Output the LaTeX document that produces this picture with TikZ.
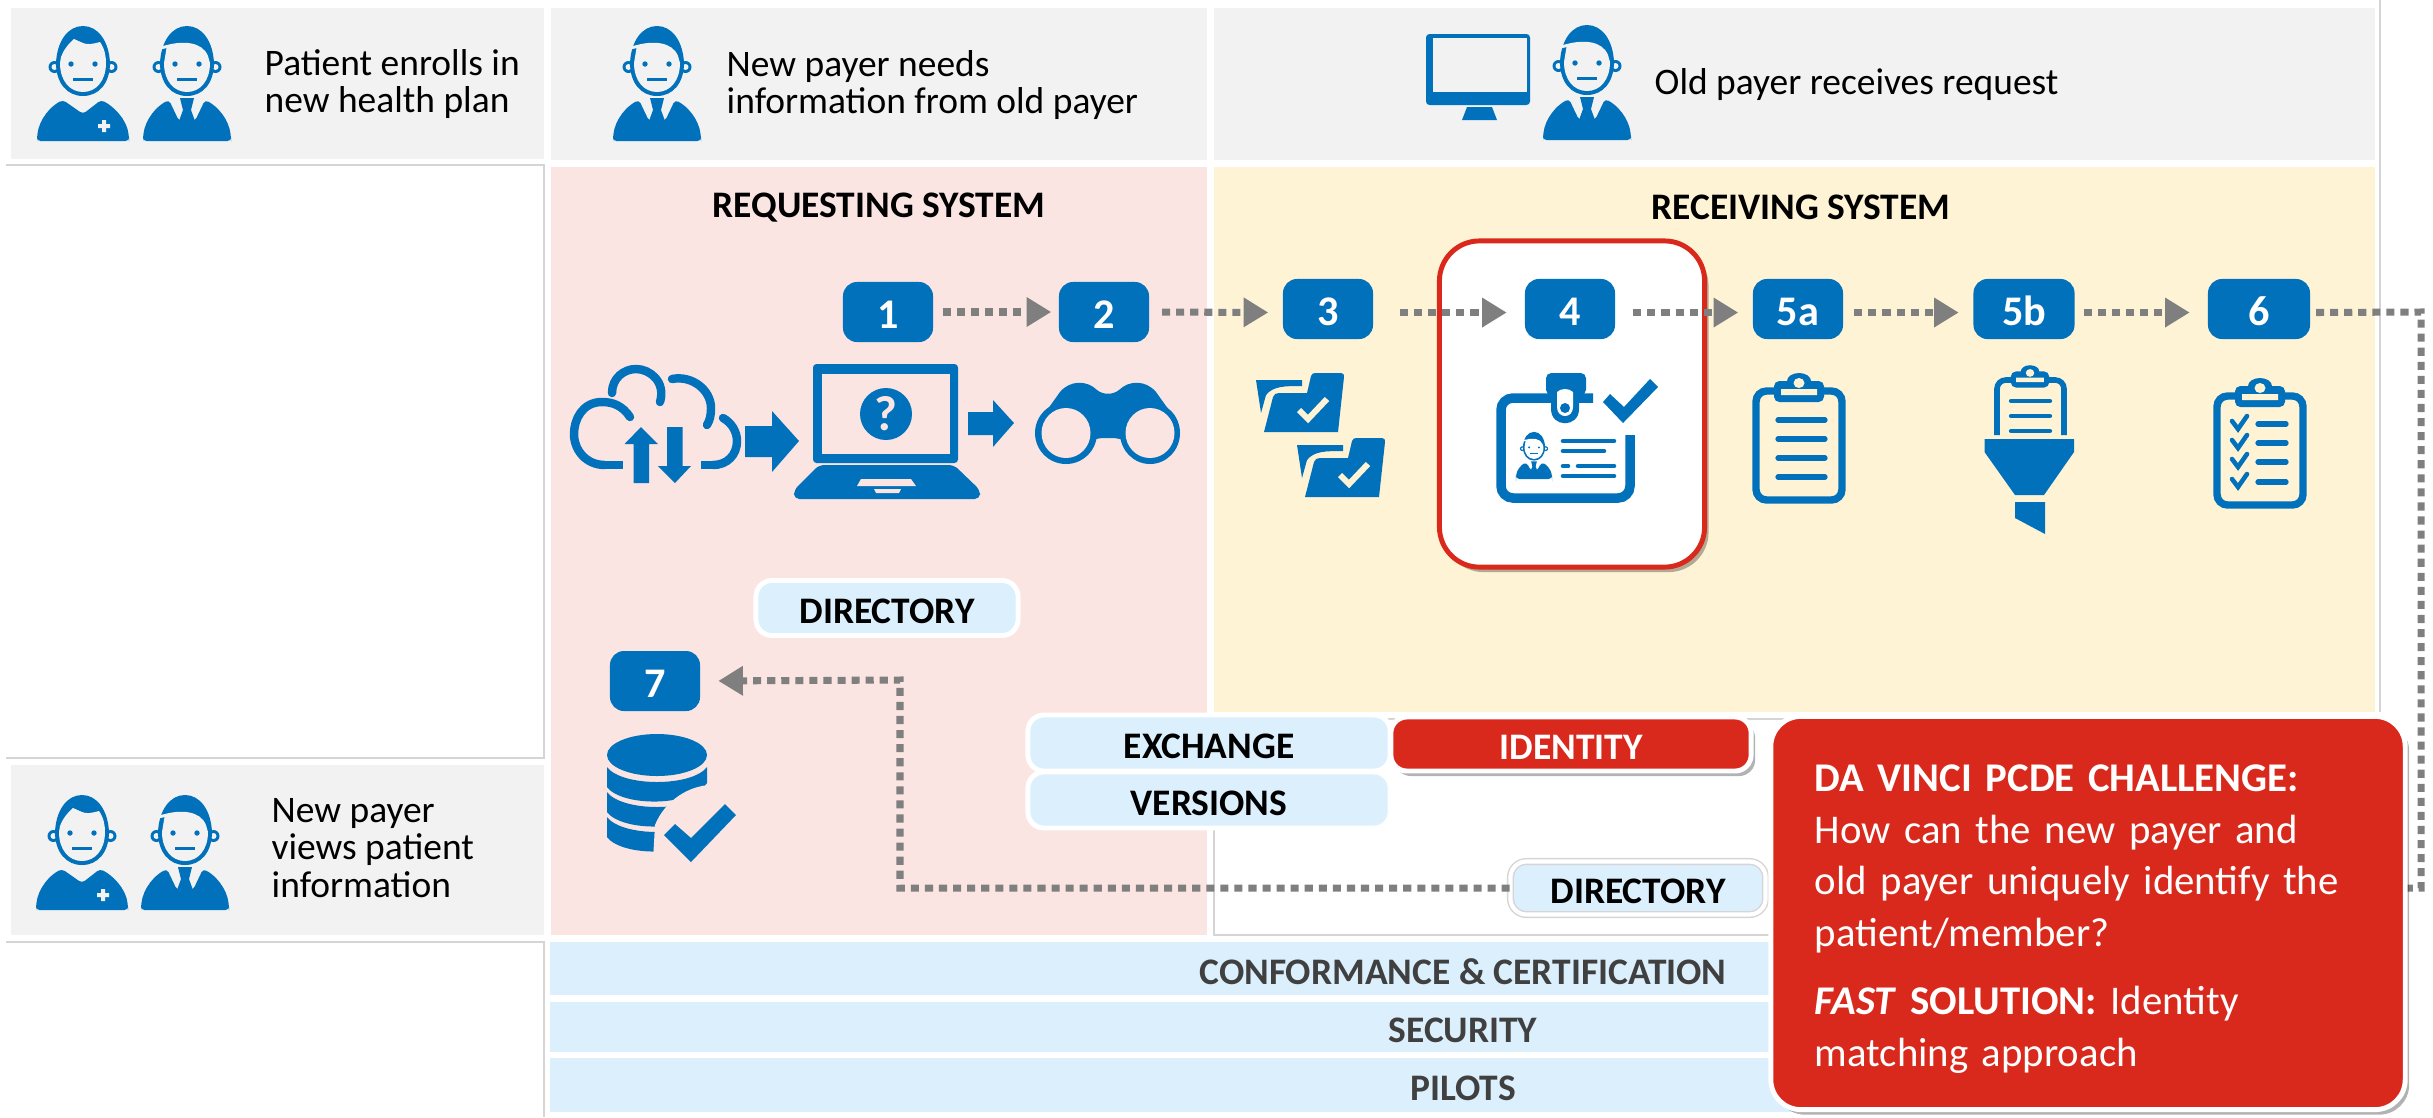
\documentclass[tikz,border=0pt]{standalone}
\usepackage{fontspec}
\setmainfont{Carlito}
\usetikzlibrary{arrows.meta,shadows}
\definecolor{iconblue}{HTML}{0071BA}
\definecolor{headgray}{HTML}{F2F2F2}
\definecolor{reqpink}{HTML}{FBE5E3}
\definecolor{recvyellow}{HTML}{FFF3D6}
\definecolor{pillblue}{HTML}{DBEFFD}
\definecolor{alertred}{HTML}{D9291C}
\definecolor{flowgray}{HTML}{7F7F7F}
\definecolor{hairgray}{HTML}{D5D5D5}
\newcommand{\drawhead}[1]{
    \fill [iconblue] (-28.5,-74) circle [radius=6] (28.5,-74) circle [radius=6];
    \fill [#1] (-28.5,-74) circle [radius=3] (28.5,-74) circle [radius=3];
    \fill [iconblue] (0,-45) .. controls (16,-45) and (27,-58) .. (27,-78) .. controls (26,-100) and (15,-115) .. (0,-115) .. controls (-15,-115) and (-26,-100) .. (-27,-78) .. controls (-27,-58) and (-16,-45) .. (0,-45) -- cycle;
}
\newcommand{\drawfeatures}{
    \fill [iconblue] (-12,-77) circle [radius=2.7] (12,-77) circle [radius=2.7];
    \fill [iconblue] (-10,-63.5) rectangle (10,-60.5);
}
\tikzset{
    headbox/.style={fill=headgray},
    headtext/.style={anchor=west, align=left, inner sep=0pt, text=black, font=\fontsize{10.65}{10.6}\selectfont},
    systitle/.style={font=\fontsize{10.65}{12}\selectfont\bfseries},
    badge/.style={fill=iconblue, text=white, rounded corners=0.14cm, minimum width=0.9cm, minimum height=0.6cm, inner sep=0pt, text height=9.6pt, font=\fontsize{12}{12}\selectfont\bfseries},
    flowline/.style={draw=flowgray, line width=2pt, dash pattern=on 2.3pt off 1.7pt, -{Triangle[length=7pt,width=8pt]}},
    pill/.style={fill=pillblue, draw=white, line width=1.4pt, rounded corners=0.16cm, inner sep=0pt, text height=9pt, font=\fontsize{10.65}{12}\selectfont\bfseries},
    barbox/.style={fill=pillblue, text=black!75, minimum width=18.24cm, inner sep=0pt, text height=9pt, font=\fontsize{10.65}{12}\selectfont\bfseries},
    challengebox/.style={fill=alertred, draw=white, line width=1.4pt, text=white, rounded corners=0.3cm, align=left, text width=5.46cm, inner xsep=0.44cm, inner ysep=0pt, minimum height=3.93cm, font=\fontsize{11.6}{14.65}\selectfont, drop shadow={shadow xshift=0.04cm, shadow yshift=-0.05cm, fill=black, opacity=.3}},
    iconline/.style={draw=iconblue, line cap=round, line width=1.5pt},
    pics/patient/.style={code={
        \fill [iconblue, rounded corners=1pt] (-46,-3) .. controls (-44,-22) and (-32,-35) .. (-20,-41) -- (0,-27) -- (18,-41) .. controls (30,-35) and (44,-22) .. (46,-3) -- (46,0) -- (-46,0) -- cycle;
        \fill [#1] (19,-21) rectangle (23,-9) (15,-17) rectangle (27,-13);
        \drawhead{#1}
        \fill [#1] (0,-49) .. controls (13,-49) and (23,-60) .. (23,-78) .. controls (23,-84) and (22,-92) .. (17,-99) .. controls (10,-97) and (4,-96) .. (0,-98) -- (-9,-102) .. controls (-15,-97) and (-20,-90) .. (-22,-84) -- (-23,-78) .. controls (-23,-60) and (-13,-49) .. (0,-49) -- cycle;
        \drawfeatures
    }},
    pics/payer/.style={code={
        \fill [iconblue, rounded corners=1pt] (-44,-3) .. controls (-42,-22) and (-30,-35) .. (-18,-41) -- (-8,-20) -- (8,-20) -- (18,-41) .. controls (30,-35) and (42,-22) .. (44,-3) -- (44,0) -- (-44,0) -- cycle;
        \fill [iconblue] (-7,-43) -- (7,-43) -- (4,-31) -- (8,-20) -- (-8,-20) -- (-4,-31) -- cycle;
        \drawhead{#1}
        \fill [#1] (0,-49) .. controls (13,-49) and (23,-60) .. (23,-78) -- (21,-85) .. controls (15,-100) and (-5,-100) .. (-20,-96) -- (-23,-78) .. controls (-23,-60) and (-13,-49) .. (0,-49) -- cycle;
        \fill [#1] (-29,-94) -- (-20,-96) -- (-20,-93) -- (-29,-91) -- cycle;
        \drawfeatures
    }},
    pics/clamp/.style={code={
        \fill [iconblue] (0,-6) ellipse [x radius=12, y radius=8];
        \fill [iconblue, rounded corners=1.5pt] (-25,-6) rectangle (25,15);
        \fill [recvyellow] (-18,2) rectangle (18,8) (0,-4) ellipse [x radius=5.5, y radius=5];
    }},
    pics/folder/.style={code={
        \fill [iconblue] (16,30) -- (62,30) -- (62,36) .. controls (45,36) and (33,36) .. (26,45) -- (21,63) -- cycle;
        \fill [iconblue] (24,82) -- (33,47) .. controls (34,44) and (36,43) .. (39,43) -- (67,43) -- (71,26) .. controls (72,24) and (73,23) .. (75,23) -- (101,23) .. controls (103,23) and (105,25) .. (104,27) -- (98,82) -- cycle;
        \draw [recvyellow, line width=1.7pt] (59,60) -- (68,69) -- (87,49);
    }}
}
\begin{document}
\begin{tikzpicture} [x=0.01cm, y=-0.01cm]
    \useasboundingbox (0,0) rectangle (2433,1117);
    \fill [headbox] (11,8) rectangle (544,159);
    \fill [headbox] (551,8) rectangle (1207,160);
    \fill [headbox] (1214,8) rectangle (2375,160);
    \fill [headbox] (11,765) rectangle (544,935);
    \fill [reqpink] (551,167) rectangle (1207,935);
    \fill [recvyellow] (1214,167) rectangle (2375,712);
    \draw [hairgray, fill=white, line width=0.5pt] (1214,719) rectangle (2375,935);
    \draw [hairgray, line width=0.5pt] (6,165) -- (544,165) -- (544,758) -- (6,758);
    \draw [hairgray, line width=0.5pt] (6,942) -- (544,942) -- (544,1117);
    \draw [hairgray, line width=0.5pt] (2380,0) -- (2380,712);

    \node [barbox, minimum height=0.53cm] (barconform) at (1463,968.5) {CONFORMANCE \& CERTIFICATION};
    \node [barbox, minimum height=0.5cm] (barsecurity) at (1463,1027) {SECURITY};
    \node [barbox, minimum height=0.54cm] (barpilots) at (1463,1085) {PILOTS};

    \pic at (83,141) {patient=headgray};
    \pic at (187,141) {payer=headgray};
    \node [headtext] (enrolltext) at (264,84) {Patient enrolls in\\new health plan};
    \pic at (657,141) {payer=headgray};
    \node [headtext] (needtext) at (726,85) {New payer needs\\information from old payer};
    \fill [iconblue, rounded corners=1pt] (1426,34) rectangle (1530,105);
    \fill [headgray] (1433,38) rectangle (1527,92);
    \fill [iconblue] (1467,107) -- (1492,107) -- (1497,120) -- (1462,120) -- cycle;
    \pic at (1587,140) {payer=headgray};
    \node [headtext] (receivetext) at (1654,85) {Old payer receives request};
    \pic at (82,910) {patient=headgray};
    \pic at (185,910) {payer=headgray};
    \node [headtext] (viewtext) at (271,848) {New payer\\views patient\\information};

    \node [systitle] (reqtitle) at (879,208) {REQUESTING SYSTEM};
    \node [systitle] (recvtitle) at (1801,207) {RECEIVING SYSTEM};

    \node [fill=white, draw=alertred, line width=1.4pt, rounded corners=0.4cm, minimum width=2.65cm, minimum height=3.26cm, drop shadow={shadow xshift=0.04cm, shadow yshift=-0.05cm, fill=black, opacity=.3}] (idcard) at (1572,404) {};

    \node [badge] (step1) at (888,312) {1};
    \node [badge] (step2) at (1104,312) {2};
    \node [badge] (step3) at (1328,309) {3};
    \node [badge] (step4) at (1570,309) {4};
    \node [badge] (step5a) at (1798,309) {5a};
    \node [badge, minimum width=1.01cm] (step5b) at (2024,309) {5b};
    \node [badge, minimum width=1.02cm] (step6) at (2259,309) {6};
    \node [badge] (step7) at (655,681) {7};
    \node [pill, minimum width=2.62cm, minimum height=0.55cm] (dirupper) at (887,608) {DIRECTORY};
    \node [fill=pillblue, draw=hairgray, line width=0.4pt, double=white, double distance=1.2pt, rounded corners=0.16cm, inner sep=0pt, minimum width=2.55cm, minimum height=0.53cm, text height=9pt, font=\fontsize{10.65}{12}\selectfont\bfseries] (dirlower) at (1638,888) {DIRECTORY};

    \draw [flowline, shorten <=2.5pt, shorten >=2pt] (step1.east) -- (step2.west);
    \draw [flowline, shorten <=3.5pt, shorten >=4pt] (step2.east) -- ([yshift=-1pt]step3.west);
    \draw [flowline, shorten <=7.5pt, shorten >=5pt] ([yshift=-1pt]step3.east) -- ([yshift=-1pt]step4.west);
    \draw [flowline, shorten <=5pt, shorten >=4pt] ([yshift=-1pt]step4.east) -- ([yshift=-1pt]step5a.west);
    \draw [flowline, shorten <=3pt, shorten >=4pt] ([yshift=-1pt]step5a.east) -- ([yshift=-1pt]step5b.west);
    \draw [flowline, shorten <=2.5pt, shorten >=5pt] ([yshift=-1pt]step5b.east) -- ([yshift=-1pt]step6.west);
    \coordinate (rightdrop) at (2421,312);
    \draw [flowline, -, shorten <=1.5pt] ([yshift=-1pt]step6.east) -- (rightdrop) |- (dirlower.east);
    \coordinate (leftrise) at (900,680);
    \draw [flowline, shorten >=5pt] (dirlower.west) -| (leftrise) -- (step7.east);

    % cloud and laptop
    \draw [iconblue, line width=2.4pt, line cap=round] (630,417) .. controls (622,405) and (612,402) .. (602,402) .. controls (582,402) and (574,420) .. (574,434) .. controls (574,450) and (586,465) .. (605,465);
    \fill [iconblue] (605,461) rectangle (623,469);
    \draw [iconblue, line width=2.4pt, line cap=round] (612,393) .. controls (612,378) and (624,369) .. (636,369) .. controls (650,369) and (666,382) .. (660,402);
    \draw [iconblue, line width=2.4pt, line cap=round] (672,379) .. controls (692,375) and (711,390) .. (711,408) .. controls (711,415) and (710,420) .. (707,425);
    \draw [iconblue, line width=2.4pt, line cap=round] (723,418) .. controls (732,423) and (737,432) .. (737,441) .. controls (737,455) and (727,465) .. (713,465);
    \fill [iconblue] (701,461) rectangle (713,469);
    \fill [iconblue] (641,427) -- (658,444) -- (649,444) -- (649,483) -- (633.5,483) -- (633.5,444) -- (624.5,444) -- cycle;
    \fill [iconblue] (675,483) -- (658,466) -- (667,466) -- (667,427) -- (682.5,427) -- (682.5,466) -- (691,466) -- cycle;
    \fill [iconblue] (745,426) -- (772,426) -- (772,411) -- (799,441) -- (772,472) -- (772,457) -- (745,457) -- cycle;
    \fill [iconblue, rounded corners=1pt] (813,364) rectangle (958,463);
    \fill [reqpink] (821.5,374) rectangle (950,454);
    \fill [iconblue] (886,414) ellipse [x radius=26, y radius=26];
    \node [text=reqpink, inner sep=0pt, font=\fontsize{14}{14}\selectfont\bfseries] (helpmark) at (886,414) {?};
    \fill [iconblue, rounded corners=1.5pt] (819,465) -- (954,465) -- (980,490) -- (980,499) -- (794,499) -- (794,490) -- cycle;
    \fill [reqpink] (861,479) -- (911,479) -- (916,486) -- (857,486) -- cycle;
    \fill [reqpink] (874,489) -- (901,489) -- (899,493) -- (876,493) -- cycle;
    \fill [iconblue] (968,412) -- (993,412) -- (993,400) -- (1014,423) -- (993,447) -- (993,435) -- (968,435) -- cycle;
    % binoculars
    \fill [iconblue] (1066,433) ellipse [x radius=31, y radius=31] (1150,433) ellipse [x radius=30, y radius=31];
    \fill [iconblue] (1040,420) -- (1060,392) .. controls (1070,380) and (1087,380) .. (1097,390) .. controls (1103,395) and (1113,395) .. (1119,390) .. controls (1129,380) and (1146,380) .. (1156,392) -- (1176,420) -- (1135,450) .. controls (1125,438) and (1118,438) .. (1108,438) .. controls (1098,438) and (1091,438) .. (1081,450) -- cycle;
    \fill [reqpink] (1066,433) ellipse [x radius=24.5, y radius=25] (1150,433) ellipse [x radius=24.5, y radius=25];

    \pic at (1240,350) {folder};
    \pic at (1281,415) {folder};

    % id card
    \draw [iconblue, line width=2.7pt, rounded corners=3.4pt] (1593,398) -- (1501,398) -- (1501,498) -- (1630,498) -- (1630,435);
    \fill [iconblue, rounded corners=1.5pt] (1546,373) rectangle (1586,395);
    \fill [iconblue] (1551,385) -- (1579,385) -- (1579,409) .. controls (1579,428) and (1551,428) .. (1551,409) -- cycle;
    \fill [white] (1557,392) .. controls (1561,388) and (1569,388) .. (1573,392) -- (1573,407) .. controls (1573,419) and (1557,419) .. (1557,407) -- cycle;
    \fill [iconblue] (1565,408) circle [radius=5];
    \fill [iconblue] (1603,402) -- (1623,423) -- (1658,387) -- (1650,379) -- (1624,407) -- (1610,394) -- cycle;
    \pic [scale=.41] at (1534,479) {payer=white};
    \draw [iconline, line width=1.3pt] (1563,441) -- (1614,441) (1563,451) -- (1604,451) (1563,466) -- (1568,466) (1578,466) -- (1614,466) (1563,476) -- (1614,476);

    % clipboards
    \draw [iconblue, line width=2.1pt, rounded corners=3pt] (1756,391) rectangle (1842,500);
    \pic at (1799,387) {clamp};
    \foreach \rowy in {420,439,458,477}
        \draw [iconline] (1778,\rowy) -- (1825,\rowy);
    \draw [iconblue, line width=1.6pt, rounded corners=2.5pt] (1997,435) -- (1997,380) -- (2064,380) -- (2064,435);
    \pic [scale=.77] at (2030,376) {clamp};
    \foreach \rowy in {401,416,431}
        \draw [iconline, line width=1.2pt] (2011,\rowy) -- (2050,\rowy);
    \fill [iconblue] (1984.5,439) -- (2074,439) -- (2074,452) -- (2044,495) -- (2015,495) -- (1984.5,452) -- cycle;
    \fill [iconblue] (2015,502) -- (2045,502) -- (2045,534) -- (2015,518) -- cycle;
    \draw [iconblue, line width=2.1pt, rounded corners=3pt] (2217,396) rectangle (2303,505);
    \pic at (2260,392) {clamp};
    \foreach \rowy in {424,443,462,482} {
        \draw [iconline] (2258,\rowy) -- (2286,\rowy);
        \draw [iconline, line width=1.3pt] (2232,\rowy-3) -- (2238,\rowy+5) -- (2247,\rowy-8);
    }

    % database
    \fill [iconblue] (657,755) ellipse [x radius=50, y radius=21];
    \foreach \bandy in {767,792,817}
        \fill [iconblue] (607,\bandy) .. controls (622,\bandy+20) and (692,\bandy+20) .. (707,\bandy) -- (707,\bandy+16) .. controls (692,\bandy+40) and (622,\bandy+40) .. (607,\bandy+20) -- cycle;
    \fill [reqpink] (712,785) .. controls (690,785) and (665,800) .. (655,825) -- (653,860) -- (730,860) -- cycle;
    \fill [iconblue] (664,835) -- (675,824) -- (691,838) -- (725,804) -- (736,815) -- (691,862) -- cycle;

    \node [pill, minimum width=3.62cm, minimum height=0.56cm] (exchange) at (1209,743) {EXCHANGE};
    \node [pill, minimum width=3.62cm, minimum height=0.56cm] (versions) at (1209,800) {VERSIONS};
    \node [pill, fill=alertred, text=white, minimum width=3.6cm, minimum height=0.54cm, drop shadow={shadow xshift=0.04cm, shadow yshift=-0.05cm, fill=black, opacity=.3}] (identity) at (1571,744) {IDENTITY};
    \node [challengebox] (challenge) at (2088,913) {\rule{0pt}{11pt}\textbf{DA VINCI PCDE CHALLENGE:}\\How can the new payer and\\old payer uniquely identify the\\patient/member?\\[4.8pt]\textbf{\textit{FAST} SOLUTION:} Identity\\matching approach};
\end{tikzpicture}
\end{document}
